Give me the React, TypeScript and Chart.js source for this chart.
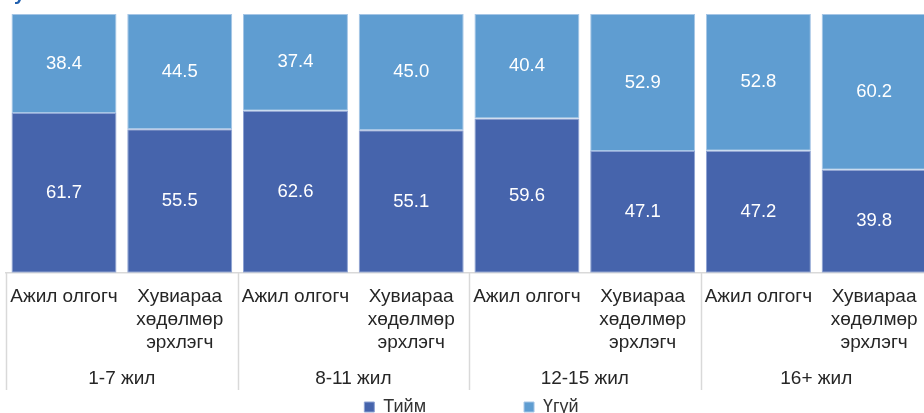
import React, { useEffect, useRef } from "react";
import { Chart, registerables } from "chart.js";

Chart.register(...registerables);

const categories: string[][] = [
  ["Ажил олгогч"],
  ["Хувиараа", "хөдөлмөр", "эрхлэгч"],
  ["Ажил олгогч"],
  ["Хувиараа", "хөдөлмөр", "эрхлэгч"],
  ["Ажил олгогч"],
  ["Хувиараа", "хөдөлмөр", "эрхлэгч"],
  ["Ажил олгогч"],
  ["Хувиараа", "хөдөлмөр", "эрхлэгч"],
];
const groups = ["1-7 жил", "8-11 жил", "12-15 жил", "16+ жил"];
const yesValues = [61.7, 55.5, 62.6, 55.1, 59.6, 47.1, 47.2, 39.8];
const noValues = [38.4, 44.5, 37.4, 45.0, 40.4, 52.9, 52.8, 60.2];
const seriesNames = ["Тийм", "Үгүй"];
const titleText = "Хувь";

const FONT = "'Liberation Sans', Arial, sans-serif";

const separatorPlugin = {
  id: "groupSeparators",
  afterDraw(chart: any) {
    const x = chart.scales.x;
    const x2 = chart.scales.x2;
    if (!x || !x2) return;
    const ctx = chart.ctx;
    const w = x.getPixelForValue(1) - x.getPixelForValue(0);
    ctx.save();
    ctx.strokeStyle = "#d9d9d9";
    ctx.lineWidth = 1.5;
    for (let i = 0; i <= categories.length; i += 2) {
      const px = Math.round(x.getPixelForValue(i) - w / 2) + 0.5;
      ctx.beginPath();
      ctx.moveTo(px, chart.chartArea.bottom);
      ctx.lineTo(px, x2.bottom);
      ctx.stroke();
    }
    ctx.restore();
  },
};

const legendShiftPlugin = {
  id: "legendShift",
  afterLayout(chart: any) {
    if (chart.legend) {
      chart.legend.left += 5;
      chart.legend.right += 5;
    }
  },
};

const valueLabelPlugin = {
  id: "valueLabels",
  afterDatasetsDraw(chart: any) {
    const ctx = chart.ctx;
    ctx.save();
    ctx.fillStyle = "#ffffff";
    ctx.font = `18.5px ${FONT}`;
    ctx.textAlign = "center";
    ctx.textBaseline = "middle";
    chart.data.datasets.forEach((ds: any, di: number) => {
      const meta = chart.getDatasetMeta(di);
      meta.data.forEach((el: any, i: number) => {
        const v = ds.data[i];
        const cy = (el.y + el.base) / 2;
        ctx.fillText(Number(v).toFixed(1), el.x, cy);
      });
    });
    ctx.restore();
  },
};

export default function App() {
  const ref = useRef<HTMLCanvasElement | null>(null);

  useEffect(() => {
    if (!ref.current) return;
    const chart = new Chart(ref.current, {
      type: "bar",
      data: {
        labels: categories,
        datasets: [
          {
            label: seriesNames[0] + "                  ",
            data: yesValues,
            backgroundColor: "#4664ac",
            borderColor: "#8ea3d3",
            borderWidth: 1,
            borderSkipped: false,
            categoryPercentage: 1,
            barPercentage: 0.907,
          },
          {
            label: seriesNames[1],
            data: noValues,
            backgroundColor: "#5f9dd1",
            borderColor: "#a6c6e6",
            borderWidth: 1,
            borderSkipped: false,
            categoryPercentage: 1,
            barPercentage: 0.907,
          },
        ],
      },
      options: {
        responsive: true,
        maintainAspectRatio: false,
        animation: false,
        layout: { padding: { left: 4, right: 7, top: 0, bottom: 0 } },
        plugins: {
          title: {
            display: true,
            text: titleText,
            align: "start",
            color: "#1f5fae",
            font: { family: FONT, size: 20, weight: "bold" },
            padding: { top: 0, bottom: 8 },
          },
          legend: {
            display: true,
            position: "bottom",
            labels: {
              boxWidth: 10,
              boxHeight: 10,
              color: "#333333",
              font: { family: FONT, size: 18 },
              padding: 8,
            },
          },
          tooltip: { enabled: false },
        },
        scales: {
          x: {
            stacked: true,
            grid: { display: false, drawOnChartArea: false, drawTicks: false },
            border: { display: true, color: "#d9d9d9", width: 1.5 },
            ticks: {
              color: "#262626",
              font: { family: FONT, size: 19, lineHeight: 1.2 },
              padding: 13,
              maxRotation: 0,
              autoSkip: false,
            },
          },
          x2: {
            type: "category",
            labels: groups,
            position: "bottom",
            offset: true,
            weight: 1,
            grid: { display: false, drawTicks: false },
            border: { display: false },
            ticks: {
              color: "#262626",
              font: { family: FONT, size: 19, lineHeight: 1.2 },
              padding: 0,
              maxRotation: 0,
              autoSkip: false,
            },
          },
          y: {
            stacked: true,
            display: false,
            min: 0,
            max: 100,
          },
        },
      },
      plugins: [separatorPlugin, valueLabelPlugin, legendShiftPlugin],
    } as any);
    return () => chart.destroy();
  }, []);

  return (
    <div
      style={{
        position: "absolute",
        left: 0,
        top: 0,
        width: 924,
        height: 413,
        overflow: "hidden",
        background: "#ffffff",
      }}
    >
      <div
        style={{
          position: "absolute",
          left: -3,
          top: -18,
          width: 942,
          height: 444,
        }}
      >
        <canvas ref={ref} />
      </div>
    </div>
  );
}
